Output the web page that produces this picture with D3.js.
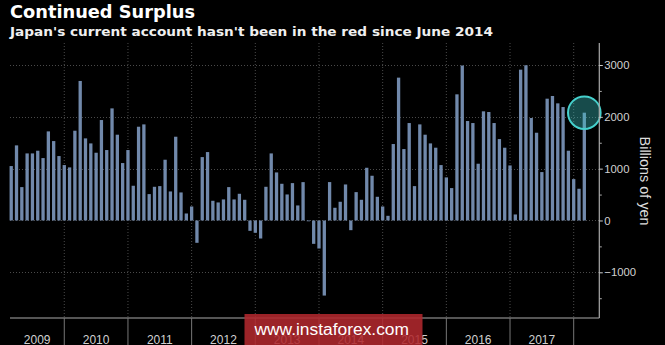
<!DOCTYPE html>
<html>
<head>
<meta charset="utf-8">
<script src="https://cdn.jsdelivr.net/npm/d3@7"></script>
<style>
  html, body { margin: 0; padding: 0; background: #000; }
  svg { display: block; }
</style>
</head>
<body>
<svg id="chart" width="665" height="345"></svg>
<script>
// ---- Data (billions of yen, monthly, Feb 2009 – Feb 2018) ----
const startYear = 2009;
const startMonth = 1; // 0-based: February
const values = [
  1050, 1449, 644, 1294, 1294, 1346, 1204, 1719, 1532, 1243, 1069,            // 2009 Feb-Dec
  1024, 1732, 2692, 1584, 1487, 1307, 1938, 1359, 2163, 1655, 1108, 1359,     // 2010
  670, 1809, 1854, 509, 650, 663, 1172, 560, 1616, 541, 135, 270,             // 2011
  -431, 1223, 1320, 380, 348, 406, 644, 406, 515, 399, -200, -238,            // 2012
  -348, 650, 1294, 927, 708, 502, 721, 290, 740, -10, -451, -541,             // 2013
  -1449, 741, 245, 361, 695, -187, 547, 399, 1017, 863, 457, 270,             // 2014
  90, 1475, 2756, 1378, 1880, 663, 1854, 1655, 1487, 1404, 1069, 831,         // 2015
  625, 2434, 2990, 1919, 1880, 1095, 2106, 2093, 1880, 1571, 1404, 1062,      // 2016
  116, 2910, 2995, 1977, 1693, 934, 2350, 2402, 2260, 2189, 1346, 798,        // 2017
  612, 2080                                                                   // 2018 Jan-Feb
];
const yearLabels = ["2009", "2010", "2011", "2012", "2013", "2014", "2015", "2016", "2017"];
const majorTicks = [-1000, 0, 1000, 2000, 3000];
const minorTicks = [-1500, -500, 500, 1500, 2500];
const titleText = "Continued Surplus";
const subtitleText = "Japan's current account hasn't been in the red since June 2014";
const unitLabel = "Billions of yen";
const watermark = "www.instaforex.com";

// ---- Layout ----
const svg = d3.select("#chart");
const W = 665, H = 345;
const plotLeft = 10, plotRight = 599.3, plotTop = 43, plotBottom = 318;

// month index measured from Jan 1 2009; each bar sits at its month's end
const x = d3.scaleLinear().domain([0, 108]).range([0.6, 573.7]);
const y = d3.scaleLinear().domain([-1000, 3000]).range([272.3, 65]);
const barW = 3.3;

const bars = values.map((v, i) => ({ m: startMonth + i + 1, v }));

svg.append("rect").attr("width", W).attr("height", H).attr("fill", "#000");

// Title / subtitle
svg.append("text").attr("x", 10).attr("y", 18.3)
  .attr("font-family", "DejaVu Sans, Verdana, sans-serif").attr("font-weight", "bold")
  .attr("font-size", 17.5).attr("fill", "#fff")
  .attr("textLength", 185).attr("lengthAdjust", "spacingAndGlyphs")
  .text(titleText);
svg.append("text").attr("x", 10).attr("y", 35.5)
  .attr("font-family", "DejaVu Sans, Verdana, sans-serif").attr("font-weight", "bold")
  .attr("font-size", 13).attr("fill", "#f0f0f0")
  .attr("textLength", 483).attr("lengthAdjust", "spacingAndGlyphs")
  .text(subtitleText);

// Horizontal dotted gridlines
svg.append("g").selectAll("line").data(majorTicks).join("line")
  .attr("x1", plotLeft).attr("x2", plotRight)
  .attr("y1", d => Math.round(y(d)) + 0.5).attr("y2", d => Math.round(y(d)) + 0.5)
  .attr("stroke", "#4a4a4a").attr("stroke-width", 1).attr("stroke-dasharray", "1,2");

// Year boundaries
const boundaries = d3.range(1, yearLabels.length + 1).map(k => k * 12);
svg.append("g").selectAll("line").data(boundaries).join("line")
  .attr("x1", d => x(d)).attr("x2", d => x(d))
  .attr("y1", plotTop).attr("y2", plotBottom)
  .attr("stroke", "#4a4a4a").attr("stroke-width", 1).attr("stroke-dasharray", "1,2");

// Bars
svg.append("g").selectAll("rect").data(bars).join("rect")
  .attr("x", d => x(d.m) - barW / 2)
  .attr("width", barW)
  .attr("y", d => y(Math.max(0, d.v)))
  .attr("height", d => Math.max(0.8, Math.abs(y(d.v) - y(0))))
  .attr("fill", "#7189ab");

// Highlight circle on last bar
const last = bars[bars.length - 1];
svg.append("circle")
  .attr("cx", x(last.m)).attr("cy", y(last.v)).attr("r", 16.3)
  .attr("fill", "#3cc4c4").attr("fill-opacity", 0.38)
  .attr("stroke", "#45d0cc").attr("stroke-width", 2);

// Right axis
const axisG = svg.append("g").attr("transform", `translate(${plotRight},0)`);
axisG.append("line").attr("x1", 0).attr("x2", 0).attr("y1", plotTop).attr("y2", plotBottom)
  .attr("stroke", "#aaa").attr("stroke-width", 1.2);
const yAxis = d3.axisRight(y).tickValues(majorTicks).tickSize(3.5).tickPadding(1.5).tickFormat(d3.format("d"));
const ya = axisG.append("g").call(yAxis);
ya.select(".domain").remove();
ya.selectAll("line").attr("stroke", "#ccc");
ya.selectAll("text").attr("fill", "#d0d0d0").attr("font-size", 11.3)
  .attr("font-family", "Liberation Sans, Arial, sans-serif");
const yMinor = d3.axisRight(y).tickValues(minorTicks).tickSize(2.5).tickFormat("");
const ym = axisG.append("g").call(yMinor);
ym.select(".domain").remove();
ym.selectAll("line").attr("stroke", "#aaa");

// Unit label
svg.append("text")
  .attr("transform", `translate(640,181) rotate(90)`)
  .attr("text-anchor", "middle")
  .attr("font-family", "Liberation Sans, Arial, sans-serif").attr("font-size", 14.4)
  .attr("fill", "#ddd")
  .text(unitLabel);

// Bottom axis line
svg.append("line").attr("x1", plotLeft).attr("x2", plotRight)
  .attr("y1", plotBottom).attr("y2", plotBottom)
  .attr("stroke", "#aaa").attr("stroke-width", 1.2);

// Year separators below axis
svg.append("g").selectAll("line").data(boundaries).join("line")
  .attr("x1", d => x(d)).attr("x2", d => x(d))
  .attr("y1", plotBottom).attr("y2", H)
  .attr("stroke", "#777").attr("stroke-width", 1);

// Year labels centred in each (clamped) year span
svg.append("g").selectAll("text").data(yearLabels).join("text")
  .attr("x", (d, i) => (Math.max(plotLeft, x(i * 12)) + x((i + 1) * 12)) / 2)
  .attr("y", 343.5)
  .attr("text-anchor", "middle")
  .attr("font-family", "Liberation Sans, Arial, sans-serif").attr("font-size", 12)
  .attr("fill", "#d0d0d0")
  .text(d => d);

// Watermark (overlaps the 2013–2015 labels, as in the reference)
const wm = svg.append("g");
wm.append("rect").attr("x", 244.5).attr("y", 314).attr("width", 178).attr("height", 31)
  .attr("fill", "#b0282e").attr("fill-opacity", 0.88);
wm.append("text").attr("x", 254.5).attr("y", 335)
  .attr("font-family", "Liberation Sans, Arial, sans-serif").attr("font-size", 17.3)
  .attr("fill", "#fff")
  .attr("textLength", 154.5).attr("lengthAdjust", "spacingAndGlyphs")
  .text(watermark);
</script>
</body>
</html>
